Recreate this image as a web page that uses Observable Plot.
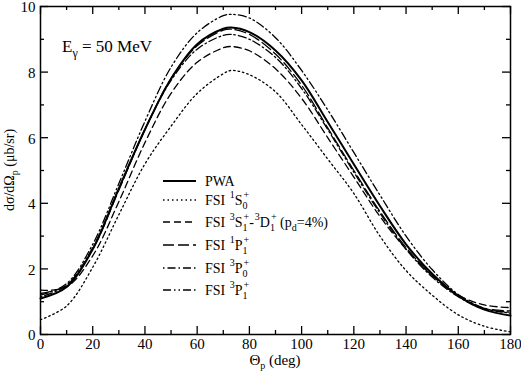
<!DOCTYPE html>
<html>
<head>
<meta charset="utf-8">
<script src="https://cdn.jsdelivr.net/npm/d3@7"></script>
<script src="https://cdn.jsdelivr.net/npm/@observablehq/plot@0.6"></script>
<style>
  body { margin: 0; background: #fff; }
  svg, svg text, svg tspan { font-family: "Liberation Serif", "Times New Roman", Times, "DejaVu Serif", "Noto Serif", serif !important; }
</style>
</head>
<body>
<div id="chart"></div>
<script>
// Angles (deg)
const theta = [0, 10, 20, 30, 40, 50, 60, 70, 73, 80, 90, 100, 110, 120, 130, 140, 150, 160, 170, 180];
// Series values (μb/sr)
const pwa     = [1.10, 1.45, 2.60, 4.45, 6.25, 7.80, 8.85, 9.32, 9.36, 9.22, 8.66, 7.75, 6.48, 5.19, 3.92, 2.75, 1.85, 1.18, 0.76, 0.58];
const fsi1S0  = [0.45, 0.87, 2.05, 3.65, 5.20, 6.35, 7.35, 7.95, 8.05, 7.92, 7.40, 6.40, 5.35, 4.30, 3.00, 1.95, 1.20, 0.60, 0.25, 0.08];
const fsi3S1  = [1.35, 1.45, 2.40, 4.05, 5.85, 7.35, 8.30, 8.74, 8.78, 8.65, 8.10, 7.20, 6.00, 4.80, 3.60, 2.60, 1.80, 1.20, 0.90, 0.82];
const fsi1P1  = [1.25, 1.50, 2.60, 4.40, 6.25, 7.80, 8.80, 9.28, 9.31, 9.15, 8.55, 7.60, 6.30, 5.00, 3.75, 2.65, 1.80, 1.17, 0.80, 0.72];
const fsi3P0  = [1.15, 1.50, 2.65, 4.45, 6.25, 7.75, 8.70, 9.12, 9.15, 9.00, 8.45, 7.50, 6.25, 4.95, 3.70, 2.60, 1.75, 1.15, 0.78, 0.68];
const fsi3P1  = [1.20, 1.55, 2.75, 4.60, 6.50, 8.15, 9.20, 9.72, 9.76, 9.65, 9.05, 8.05, 6.85, 5.55, 4.25, 3.00, 1.98, 1.22, 0.80, 0.65];
// Ticks
const xMajor = [0, 20, 40, 60, 80, 100, 120, 140, 160, 180];
const xMinor = [10, 30, 50, 70, 90, 110, 130, 150, 170];
const yMajor = [0, 2, 4, 6, 8, 10];
const yMinor = [1, 3, 5, 7, 9];

const seriesNames = ["PWA", "1S0", "3S1", "1P1", "3P0", "3P1"];
const seriesValues = [pwa, fsi1S0, fsi3S1, fsi1P1, fsi3P0, fsi3P1];
const dashes = [null, "1.5,3", "7,4", "11,4", "1.5,3,8,3", "8,3,1.5,3,1.5,3"];
const widths = [2, 1.3, 1.3, 1.3, 1.3, 1.3];

const W = 521, H = 371;
const mL = 40, mR = 11, mT = 6, mB = 37;
const pw = W - mL - mR, ph = H - mT - mB;
const majorLen = 8, minorLen = 4;
const FONT = '"Liberation Serif", "Times New Roman", Times, "DejaVu Serif", serif';

const lineMarks = seriesNames.map((name, i) =>
  Plot.line(theta.map((t, j) => ({t, v: seriesValues[i][j]})), {
    x: "t", y: "v", stroke: "black", strokeWidth: widths[i],
    strokeDasharray: dashes[i], curve: "catmull-rom"
  })
);

const plot = Plot.plot({
  width: W, height: H,
  marginLeft: mL, marginRight: mR, marginTop: mT, marginBottom: mB,
  style: {fontFamily: FONT, fontSize: "15px", color: "black", background: "white", overflow: "visible"},
  x: {domain: [0, 180]},
  y: {domain: [0, 10]},
  marks: [
    ...lineMarks,
    Plot.frame({stroke: "black", strokeWidth: 1.5}),
    // inward ticks on all four sides
    Plot.ruleX(xMajor, {x: d => d, insetTop: ph - majorLen, stroke: "black", strokeWidth: 1.3}),
    Plot.ruleX(xMinor, {x: d => d, insetTop: ph - minorLen, stroke: "black", strokeWidth: 1.3}),
    Plot.ruleX(xMajor, {x: d => d, insetBottom: ph - majorLen, stroke: "black", strokeWidth: 1.3}),
    Plot.ruleX(xMinor, {x: d => d, insetBottom: ph - minorLen, stroke: "black", strokeWidth: 1.3}),
    Plot.ruleY(yMajor, {y: d => d, insetRight: pw - majorLen, stroke: "black", strokeWidth: 1.3}),
    Plot.ruleY(yMinor, {y: d => d, insetRight: pw - minorLen, stroke: "black", strokeWidth: 1.3}),
    Plot.ruleY(yMajor, {y: d => d, insetLeft: pw - majorLen, stroke: "black", strokeWidth: 1.3}),
    Plot.ruleY(yMinor, {y: d => d, insetLeft: pw - minorLen, stroke: "black", strokeWidth: 1.3}),
    Plot.axisX(xMajor, {anchor: "bottom", tickSize: 0, tickPadding: 4, label: null, fontSize: 15, fontFamily: FONT}),
    Plot.axisY(yMajor, {anchor: "left", tickSize: 0, tickPadding: 5, label: null, fontSize: 15, dy: 1, fontFamily: FONT})
  ]
});

document.getElementById("chart").appendChild(plot);

// Rich text (sub/superscripts) added to the SVG
const svg = d3.select(plot);
const g = svg.append("g").attr("font-family", FONT).style("font-family", FONT).attr("fill", "black");

// y-axis label
const yl = g.append("text").attr("transform", `translate(14,${mT + ph / 2}) rotate(-90)`)
  .attr("text-anchor", "middle").attr("font-size", 14);
yl.append("tspan").text("dσ/dΩ");
yl.append("tspan").attr("font-size", 10).attr("dy", 4).text("p");
yl.append("tspan").attr("dy", -4).text(" (μb/sr)");

// x-axis label
const xl = g.append("text").attr("x", mL + pw / 2).attr("y", H - 6)
  .attr("text-anchor", "middle").attr("font-size", 15);
xl.append("tspan").text("Θ");
xl.append("tspan").attr("font-size", 10).attr("dy", 4).text("p");
xl.append("tspan").attr("dy", -4).text(" (deg)");

// annotation
const an = g.append("text").attr("x", 62).attr("y", 52).attr("font-size", 17).attr("text-anchor", "start");
an.append("tspan").text("E");
an.append("tspan").attr("font-size", 12).attr("dy", 5).text("γ");
an.append("tspan").attr("dy", -5).text(" = 50 MeV");

// legend
const legendRows = [
  [["PWA"]],
  [["FSI "], ["1", "sup"], ["S"], ["0", "sub"], ["+", "supx"]],
  [["FSI "], ["3", "sup"], ["S"], ["1", "sub"], ["+", "supx"], ["-"], ["3", "sup"], ["D"], ["1", "sub"], ["+", "supx"], [" (p"], ["d", "sub"], ["=4%)"]],
  [["FSI "], ["1", "sup"], ["P"], ["1", "sub"], ["+", "supx"]],
  [["FSI "], ["3", "sup"], ["P"], ["0", "sub"], ["+", "supx"]],
  [["FSI "], ["3", "sup"], ["P"], ["1", "sub"], ["+", "supx"]]
];
const legY = [181, 200, 222, 245, 268, 290];
legendRows.forEach((row, i) => {
  const y = legY[i];
  g.append("line").attr("x1", 163).attr("x2", 196).attr("y1", y).attr("y2", y)
    .attr("stroke", "black").attr("stroke-width", widths[i])
    .attr("stroke-dasharray", dashes[i]);
  const t = g.append("text").attr("x", 205).attr("y", y + 5).attr("font-size", 14)
    .attr("text-anchor", "start");
  let cur = 0;
  row.forEach(([s, kind]) => {
    let target = 0, fs = 14;
    if (kind === "sup" || kind === "supx") { target = -7; fs = 10; }
    else if (kind === "sub") { target = 4; fs = 10; }
    const sp = t.append("tspan").attr("font-size", fs).attr("dy", target - cur).text(s);
    if (kind === "supx") sp.attr("dx", -4);
    else if (kind === "sup") sp.attr("dx", 1);
    cur = target;
  });
});
</script>
</body>
</html>
